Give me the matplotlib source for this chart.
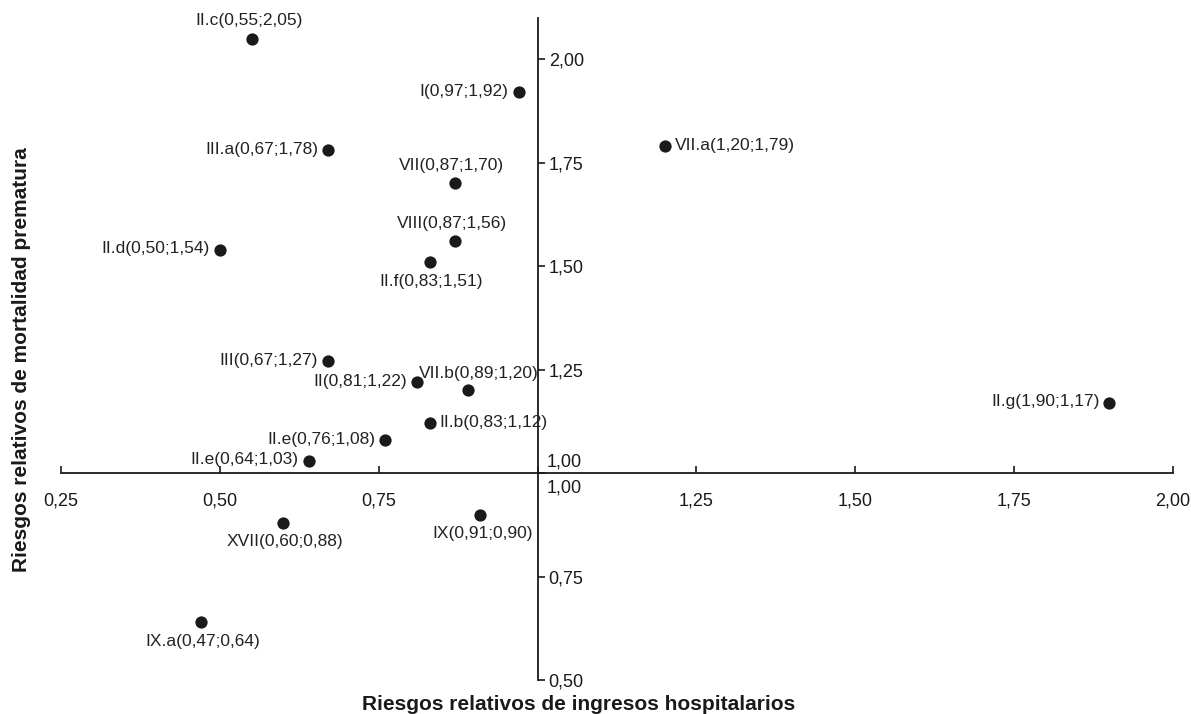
import matplotlib
matplotlib.use("Agg")
import matplotlib.pyplot as plt

plt.rcParams['font.family'] = ['Liberation Sans', 'DejaVu Sans']

names = ["II.c", "I", "III.a", "VII", "VII.a", "VIII", "II.d", "II.f", "III",
         "II", "VII.b", "II.g", "II.b", "II.e", "II.e", "XVII", "IX", "IX.a"]
x_vals = [0.55, 0.97, 0.67, 0.87, 1.20, 0.87, 0.50, 0.83, 0.67,
          0.81, 0.89, 1.90, 0.83, 0.76, 0.64, 0.60, 0.91, 0.47]
y_vals = [2.05, 1.92, 1.78, 1.70, 1.79, 1.56, 1.54, 1.51, 1.27,
          1.22, 1.20, 1.17, 1.12, 1.08, 1.03, 0.88, 0.90, 0.64]
# label placement: 'above', 'below', 'left', 'right', 'above_r'
placement = ["above", "left", "left", "above", "right", "above", "left", "below", "left",
             "left", "above_r", "left", "right", "left", "left", "below", "below", "below"]
x_ticks = [0.25, 0.50, 0.75, 1.00, 1.25, 1.50, 1.75, 2.00]
y_ticks = [0.50, 0.75, 1.00, 1.25, 1.50, 1.75, 2.00]

def fmt(v):
    return f"{v:.2f}".replace(".", ",")

W, H = 1191, 714
fig = plt.figure(figsize=(W / 100, H / 100), dpi=100)
ax = fig.add_axes([61 / W, 1 - 680 / H, (1173 - 61) / W, (680 - 18) / H])
ax.set_xlim(0.25, 2.00)
ax.set_ylim(0.50, 2.10)

ink = "#1a1a1a"
ax.scatter(x_vals, y_vals, s=78, color=ink, zorder=3, linewidths=0)

px = 0.72  # points per pixel at dpi 100
for n, xv, yv, p in zip(names, x_vals, y_vals, placement):
    label = f"{n}({fmt(xv)};{fmt(yv)})"
    if p == "left":
        off, ha, va = (-10 * px, 1 * px), "right", "center"
    elif p == "right":
        off, ha, va = (10 * px, 1 * px), "left", "center"
    elif p == "above":
        off, ha, va = (-3 * px, 18 * px), "center", "center"
    elif p == "above_r":
        off, ha, va = (11 * px, 17 * px), "center", "center"
    else:
        off, ha, va = (2 * px, -19 * px), "center", "center"
    ax.annotate(label, (xv, yv), xytext=off, textcoords="offset points",
                ha=ha, va=va, fontsize=12.5, color="#222222")

# spines crossing at (1,1)
for s in ["top", "left"]:
    ax.spines[s].set_visible(False)
ax.spines["bottom"].set_position(("data", 1.0))
ax.spines["right"].set_position(("data", 1.0))
for s in ["bottom", "right"]:
    ax.spines[s].set_linewidth(1.3)
    ax.spines[s].set_color(ink)

ax.yaxis.tick_right()
ax.set_xticks(x_ticks)
ax.set_xticklabels(["" if v == 1.0 else fmt(v) for v in x_ticks])
ax.set_yticks(y_ticks)
ax.set_yticklabels(["" if v == 1.0 else fmt(v) for v in y_ticks])
ax.tick_params(axis="x", direction="in", length=5, width=1.2, pad=14,
               labelsize=13, colors=ink)
ax.tick_params(axis="y", direction="out", length=5, width=1.2, pad=3,
               labelsize=13, colors=ink)

# the "1,00" labels at the crossing
ax.annotate("1,00", (1.0, 1.0), xytext=(9 * px, 3 * px), textcoords="offset points",
            ha="left", va="bottom", fontsize=13, color=ink)
ax.annotate("1,00", (1.0, 1.0), xytext=(9 * px, -6 * px), textcoords="offset points",
            ha="left", va="top", fontsize=13, color=ink)

fig.text(579 / W, 1 - 705 / H, "Riesgos relativos de ingresos hospitalarios",
         ha="center", va="center", fontsize=15, fontweight="bold", color=ink)
fig.text(22 / W, 1 - 360 / H, "Riesgos relativos de mortalidad prematura",
         ha="center", va="center", rotation=90, fontsize=15, fontweight="bold", color=ink)

fig.savefig("out.png", dpi=100)
